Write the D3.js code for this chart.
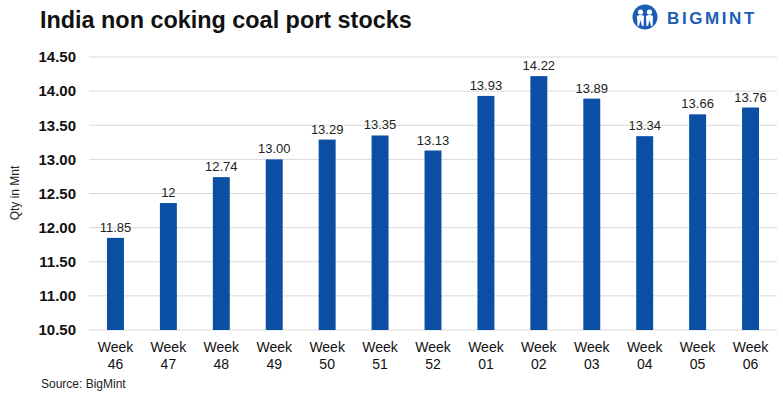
<!DOCTYPE html>
<html>
<head>
<meta charset="utf-8">
<script src="https://cdn.jsdelivr.net/npm/d3@7"></script>
<style>
  body { margin: 0; background: #fff; }
  svg { display: block; font-family: "Liberation Sans", Arial, sans-serif; }
</style>
</head>
<body>
<svg id="chart"></svg>
<script>
var weeks = ["46", "47", "48", "49", "50", "51", "52", "01", "02", "03", "04", "05", "06"];
var stocks = [11.85, 12.36, 12.74, 13.00, 13.29, 13.35, 13.13, 13.93, 14.22, 13.89, 13.34, 13.66, 13.76];
var valueLabels = ["11.85", "12", "12.74", "13.00", "13.29", "13.35", "13.13", "13.93", "14.22", "13.89", "13.34", "13.66", "13.76"];
var yTicks = [10.5, 11, 11.5, 12, 12.5, 13, 13.5, 14, 14.5];

var svgWidth = 783, svgHeight = 399;
var plotLeft = 89, plotRight = 777, plotTop = 57, plotBottom = 330; // plot area

var svg = d3.select("#chart")
    .attr("width", svgWidth)
    .attr("height", svgHeight);

// title
svg.append("text")
    .attr("x", 40).attr("y", 28)
    .attr("font-size", 23.4).attr("font-weight", "bold")
    .attr("fill", "#111")
    .text("India non coking coal port stocks");

// logo
var logo = svg.append("g").attr("transform", "translate(645,17)");
logo.append("circle").attr("r", 12.5).attr("fill", "#1b5cb5");
logo.append("circle").attr("cx", -4.5).attr("cy", -5).attr("r", 2.6).attr("fill", "#fff");
logo.append("circle").attr("cx", 4.5).attr("cy", -5).attr("r", 2.6).attr("fill", "#fff");
logo.append("path").attr("d", "M-8,-1 Q-4.5,-3 -1,-1 L-1.5,9 L-3,9 L-4.5,3 L-6,9 L-7.5,9 Z").attr("fill", "#fff");
logo.append("path").attr("d", "M8,-1 Q4.5,-3 1,-1 L1.5,9 L3,9 L4.5,3 L6,9 L7.5,9 Z").attr("fill", "#fff");
svg.append("text")
    .attr("x", 667).attr("y", 24)
    .attr("font-size", 17).attr("font-weight", "bold")
    .attr("letter-spacing", 2.6)
    .attr("fill", "#1b5cb5")
    .text("BIGMINT");

var xScale = d3.scaleBand()
    .domain(weeks)
    .range([plotLeft, plotRight])
    .paddingInner(0.68)
    .paddingOuter(0.34);

var yScale = d3.scaleLinear()
    .domain([10.5, 14.5])
    .range([plotBottom, plotTop]);

// gridlines
svg.append("g")
    .selectAll("line")
    .data(yTicks)
    .enter()
    .append("line")
    .attr("x1", plotLeft).attr("x2", plotRight)
    .attr("y1", function (d) { return yScale(d); })
    .attr("y2", function (d) { return yScale(d); })
    .attr("stroke", "#d9d9d9")
    .attr("stroke-width", 1);

// y axis labels
var yAxis = d3.axisLeft(yScale)
    .tickValues(yTicks)
    .tickSize(0)
    .tickPadding(13)
    .tickFormat(d3.format(".2f"));

svg.append("g")
    .attr("transform", "translate(" + plotLeft + ",0)")
    .call(yAxis)
    .call(function (g) { g.select(".domain").remove(); })
    .selectAll("text")
    .attr("font-family", "'Liberation Sans', Arial, sans-serif")
    .attr("font-size", 15)
    .attr("font-weight", "bold")
    .attr("fill", "#111");

// y axis title
svg.append("text")
    .attr("transform", "translate(19,193) rotate(-90)")
    .attr("text-anchor", "middle")
    .attr("font-size", 12)
    .attr("fill", "#222")
    .text("Qty in Mnt");

// bars
svg.selectAll("rect.bar")
    .data(stocks)
    .enter()
    .append("rect")
    .attr("class", "bar")
    .attr("x", function (d, i) { return xScale(weeks[i]); })
    .attr("y", function (d) { return yScale(d); })
    .attr("width", xScale.bandwidth())
    .attr("height", function (d) { return yScale(10.5) - yScale(d); })
    .attr("fill", "#0a4fa3");

// value labels
svg.selectAll("text.val")
    .data(stocks)
    .enter()
    .append("text")
    .attr("class", "val")
    .attr("x", function (d, i) { return xScale(weeks[i]) + xScale.bandwidth() / 2; })
    .attr("y", function (d) { return yScale(d) - 6; })
    .attr("text-anchor", "middle")
    .attr("font-size", 13)
    .attr("fill", "#222")
    .text(function (d, i) { return valueLabels[i]; });

// x axis labels (two lines)
var xLabels = svg.append("g")
    .selectAll("text")
    .data(weeks)
    .enter()
    .append("text")
    .attr("text-anchor", "middle")
    .attr("font-size", 14)
    .attr("fill", "#111");
xLabels.append("tspan")
    .attr("x", function (d) { return xScale(d) + xScale.bandwidth() / 2; })
    .attr("y", 352)
    .text("Week");
xLabels.append("tspan")
    .attr("x", function (d) { return xScale(d) + xScale.bandwidth() / 2; })
    .attr("y", 369)
    .text(function (d) { return d; });

// source
svg.append("text")
    .attr("x", 41).attr("y", 388)
    .attr("font-size", 12)
    .attr("fill", "#222")
    .text("Source: BigMint");
</script>
</body>
</html>
